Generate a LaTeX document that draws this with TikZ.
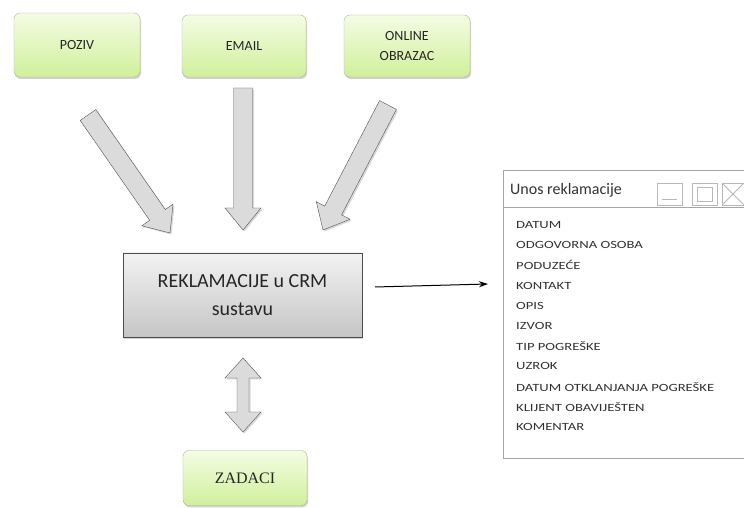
\documentclass[tikz,border=0pt]{standalone}
\usepackage{fontspec}
\setmainfont{Carlito}
\newfontfamily\itemfont{Carlito}[FakeStretch=1.33]
\newfontfamily\zfont{Liberation Serif}
\usetikzlibrary{calc,shadows,arrows.meta}
\definecolor{gtop}{RGB}{244,252,228}
\definecolor{gbot}{RGB}{208,240,155}
\definecolor{gedge}{RGB}{170,185,150}
\tikzset{
  greenbox/.style={draw=gedge, rounded corners=6pt, top color=gtop, bottom color=gbot,
    minimum width=#1, align=center, font=\fontsize{14}{18}\selectfont, text=black!85,
    drop shadow={shadow xshift=1pt, shadow yshift=-2pt, opacity=.35}},
  mainbox/.style={draw=gray!60!black, top color=gray!10, bottom color=gray!45,
    minimum width=239pt, minimum height=84pt, align=center,
    font=\fontsize{20}{28}\selectfont, text=black!85,
    drop shadow={shadow xshift=1pt, shadow yshift=-2pt, opacity=.35}},
  barrow/.style={draw=gray!65!black, fill=gray!28, line join=miter,
    drop shadow={shadow xshift=1.5pt, shadow yshift=-1.5pt, opacity=.3}},
  winline/.style={draw=gray!70, line width=0.8pt},
  winbtn/.style={draw=gray!55, line width=0.8pt},
  item/.style={anchor=west, inner sep=0pt, font=\itemfont\fontsize{11}{13}\selectfont, text=black!80}
}
\newcommand\bigarrow[4]{% tail, tip, shaft half width, head half width
  \coordinate (hh) at ($(#2)!22pt!(#1)$);
  \path[barrow] ($(#1)!#3!90:(#2)$) -- ($(hh)!#3!-90:(#1)$) -- ($(hh)!#4!-90:(#1)$) -- (#2)
     -- ($(hh)!#4!90:(#1)$) -- ($(hh)!#3!90:(#1)$) -- ($(#1)!#3!-90:(#2)$) -- cycle;
}
\begin{document}
\begin{tikzpicture}[x=1pt,y=1pt]
\useasboundingbox (0,0) rectangle (744,508);
\fill[white] (0,0) rectangle (744,508);

% source boxes
\node[greenbox=126pt, minimum height=64pt] (poziv) at (77,463) {POZIV};
\node[greenbox=124pt, minimum height=62pt] (email) at (244,462) {EMAIL};
\node[greenbox=126pt, minimum height=62pt, font=\fontsize{14}{20}\selectfont] (online) at (407,462) {ONLINE\\OBRAZAC};

% central box
\node[mainbox] (crm) at (242.5,213) {REKLAMACIJE u CRM\\sustavu};

% tasks box
\node[greenbox=124pt, minimum height=55pt, font=\zfont\fontsize{16}{18}\selectfont] (zadaci) at (245,30) {ZADACI};

% big arrows
\coordinate (t1) at (88,393);  \coordinate (p1) at (170,275);
\coordinate (t2) at (243,420); \coordinate (p2) at (243,278);
\coordinate (t3) at (388,403); \coordinate (p3) at (323,278);
\bigarrow{t1}{p1}{9.5pt}{19pt}
\bigarrow{t2}{p2}{9.5pt}{18pt}
\bigarrow{t3}{p3}{9.5pt}{19pt}

% double arrow
\path[barrow] (237,130) -- (237,96) -- (225,96) -- (243,76) -- (261,96) -- (249,96)
   -- (249,130) -- (261,130) -- (243,150) -- (225,130) -- cycle;

% window
\node[winline, draw, minimum width=245pt, minimum height=288pt, anchor=north west, inner sep=0pt] (win) at (503,338) {};
\draw[winline] (503,301) -- (748,301);
\node[anchor=west, inner sep=0pt, font=\fontsize{16}{18}\selectfont, text=black!80] (title) at (510,318) {Unos reklamacije};
\draw[winbtn] (657,303) rectangle (682,325);
\draw[winbtn] (662,309) -- (677,309);
\draw[winbtn] (692,303) rectangle (717,325);
\draw[winbtn] (697,307) rectangle (712,321);
\draw[winbtn] (722,303) rectangle (752,325);
\draw[winbtn] (722,303) -- (744,325) (722,325) -- (744,303);

\foreach \t [count=\i from 0] in {DATUM,ODGOVORNA OSOBA,PODUZEĆE,KONTAKT,OPIS,IZVOR,TIP POGREŠKE,UZROK,DATUM OTKLANJANJA POGREŠKE,KLIJENT OBAVIJEŠTEN,KOMENTAR}
  \node[item] (it\i) at (516,283-20.2*\i) {\t};

% thin arrow
\coordinate (a1) at (375,221);
\coordinate (a2) at (488,224);
\draw[line width=1pt, -{Stealth[length=9pt,width=6pt]}] (a1) -- (a2);
\end{tikzpicture}
\end{document}
